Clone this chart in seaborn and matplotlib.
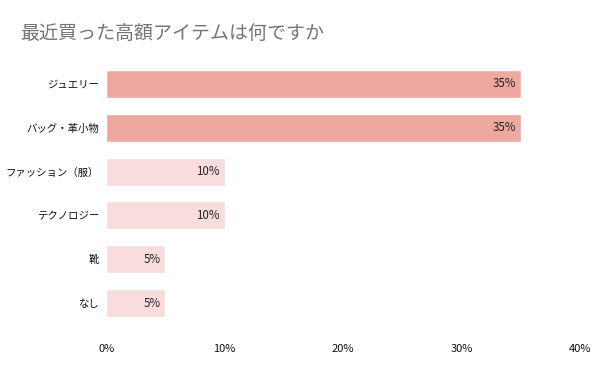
import matplotlib
matplotlib.use("Agg")
import matplotlib.pyplot as plt
import seaborn as sns
import pandas as pd

# Data
items = ["ジュエリー", "バッグ・革小物", "ファッション（服）", "テクノロジー", "靴", "なし"]
shares = [35, 35, 10, 10, 5, 5]
bar_colors = ["#efa89f", "#efa89f", "#f9dcdc", "#f9dcdc", "#f9dcdc", "#f9dcdc"]
x_ticks = [0, 10, 20, 30, 40]

df = pd.DataFrame({"item": items, "share": shares})

sns.set_theme(style="white")
plt.rcParams["font.family"] = ["Noto Sans CJK JP", "DejaVu Sans"]

fig = plt.figure(figsize=(6, 3.71), dpi=100)
ax = fig.add_axes([0.177, 0.124, 0.79, 0.709])

sns.barplot(data=df, x="share", y="item", hue="item", palette=bar_colors,
            saturation=1, legend=False, width=0.64, ax=ax)

# value labels inside bar ends
for i, v in enumerate(shares):
    ax.text(v - 0.4, i, f"{v}%", ha="right", va="center", fontsize=8.3, color="#222222")

ax.set_xlim(0, 40)
ax.set_xticks(x_ticks)
ax.set_xticklabels([f"{t}%" for t in x_ticks], fontsize=8, color="#111111")
ax.tick_params(axis="x", length=0, pad=14)
ax.tick_params(axis="y", length=0, pad=5, labelsize=7.5, labelcolor="#111111")
ax.set_xlabel("")
ax.set_ylabel("")
sns.despine(ax=ax, left=True, bottom=True)

fig.text(0.033, 0.908, "最近買った高額アイテムは何ですか", fontsize=13.7, color="#757575",
         ha="left", va="center")

plt.savefig("out.png", dpi=100)
